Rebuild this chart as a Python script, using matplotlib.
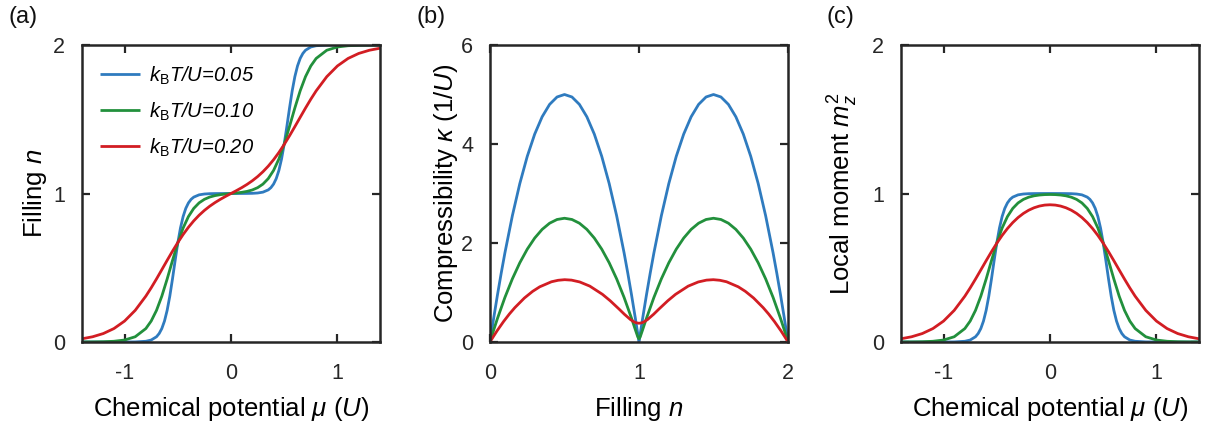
import matplotlib
matplotlib.use("Agg")
import matplotlib.pyplot as plt

plt.rcParams['font.family'] = ['Liberation Sans', 'DejaVu Sans']
plt.rcParams['mathtext.fontset'] = 'custom'
plt.rcParams['mathtext.rm'] = 'Liberation Sans'
plt.rcParams['mathtext.it'] = 'Liberation Sans:italic'
plt.rcParams['mathtext.bf'] = 'Liberation Sans:bold'

# ---------------- data ----------------
temps = ["0.05", "0.10", "0.20"]
colors = ["#2f7bbf", "#22903c", "#d21d23"]

# panel (a) & (c): chemical potential grids
mu_T005 = [-1.4, -1.3, -1.2, -1.1, -1.0, -0.9, -0.8, -0.75, -0.7, -0.675, -0.65, -0.625,
           -0.6, -0.575, -0.55, -0.525, -0.5, -0.475, -0.45, -0.425, -0.4, -0.375, -0.35,
           -0.3, -0.25, -0.2, -0.15, -0.1, -0.05, 0.0,
           0.05, 0.1, 0.15, 0.2, 0.25, 0.3, 0.35, 0.375, 0.4, 0.425, 0.45, 0.475, 0.5,
           0.525, 0.55, 0.575, 0.6, 0.625, 0.65, 0.675, 0.7, 0.75, 0.8, 0.9, 1.0, 1.1,
           1.2, 1.3, 1.4]
n_T005 = [0.0000, 0.0000, 0.0000, 0.0000, 0.0001, 0.0007, 0.0049, 0.0133, 0.0353, 0.0570,
          0.0905, 0.1410, 0.2130, 0.3086, 0.4239, 0.5481, 0.6667, 0.7673, 0.8446, 0.8996,
          0.9366, 0.9606, 0.9757, 0.9909, 0.9966, 0.9988, 0.9995, 0.9998, 0.9999, 1.0000,
          1.0001, 1.0002, 1.0005, 1.0012, 1.0034, 1.0091, 1.0243, 1.0394, 1.0634, 1.1004,
          1.1554, 1.2327, 1.3333, 1.4519, 1.5761, 1.6914, 1.7870, 1.8590, 1.9095, 1.9430,
          1.9647, 1.9867, 1.9951, 1.9993, 1.9999, 2.0000, 2.0000, 2.0000, 2.0000]
m_T005 = [0.0000, 0.0000, 0.0000, 0.0000, 0.0001, 0.0007, 0.0049, 0.0133, 0.0353, 0.0570,
          0.0905, 0.1410, 0.2130, 0.3086, 0.4239, 0.5481, 0.6667, 0.7673, 0.8446, 0.8996,
          0.9366, 0.9606, 0.9757, 0.9909, 0.9966, 0.9988, 0.9995, 0.9998, 0.9999, 1.0000,
          0.9999, 0.9998, 0.9995, 0.9988, 0.9966, 0.9909, 0.9757, 0.9606, 0.9366, 0.8996,
          0.8446, 0.7673, 0.6667, 0.5481, 0.4239, 0.3086, 0.2130, 0.1410, 0.0905, 0.0570,
          0.0353, 0.0133, 0.0049, 0.0007, 0.0001, 0.0000, 0.0000, 0.0000, 0.0000]

mu_grid = [-1.4, -1.3, -1.2, -1.1, -1.0, -0.9, -0.8, -0.75, -0.7, -0.65, -0.6, -0.55, -0.5,
           -0.45, -0.4, -0.35, -0.3, -0.25, -0.2, -0.15, -0.1, -0.05, 0.0,
           0.05, 0.1, 0.15, 0.2, 0.25, 0.3, 0.35, 0.4, 0.45, 0.5, 0.55, 0.6, 0.65, 0.7,
           0.75, 0.8, 0.9, 1.0, 1.1, 1.2, 1.3, 1.4]
n_T010 = [0.0002, 0.0007, 0.0018, 0.0049, 0.0133, 0.0353, 0.0905, 0.1410, 0.2130, 0.3086,
          0.4239, 0.5481, 0.6667, 0.7674, 0.8447, 0.8997, 0.9368, 0.9608, 0.9762, 0.9859,
          0.9922, 0.9965, 1.0000,
          1.0035, 1.0078, 1.0141, 1.0238, 1.0392, 1.0632, 1.1003, 1.1553, 1.2326, 1.3333,
          1.4519, 1.5761, 1.6914, 1.7870, 1.8590, 1.9095, 1.9647, 1.9867, 1.9951, 1.9982,
          1.9993, 1.9998]
m_T010 = [0.0002, 0.0007, 0.0018, 0.0049, 0.0133, 0.0353, 0.0905, 0.1410, 0.2130, 0.3086,
          0.4239, 0.5481, 0.6666, 0.7673, 0.8446, 0.8996, 0.9365, 0.9603, 0.9753, 0.9844,
          0.9897, 0.9925, 0.9933,
          0.9925, 0.9897, 0.9844, 0.9753, 0.9603, 0.9365, 0.8996, 0.8446, 0.7673, 0.6666,
          0.5481, 0.4239, 0.3086, 0.2130, 0.1410, 0.0905, 0.0353, 0.0133, 0.0049, 0.0018,
          0.0007, 0.0002]
n_T020 = [0.0217, 0.0353, 0.0569, 0.0905, 0.1410, 0.2132, 0.3090, 0.3648, 0.4247, 0.4870,
          0.5498, 0.6112, 0.6696, 0.7237, 0.7725, 0.8158, 0.8535, 0.8861, 0.9144, 0.9390,
          0.9609, 0.9809, 1.0000,
          1.0191, 1.0391, 1.0610, 1.0856, 1.1139, 1.1465, 1.1842, 1.2275, 1.2763, 1.3304,
          1.3888, 1.4502, 1.5130, 1.5753, 1.6352, 1.6910, 1.7868, 1.8590, 1.9095, 1.9431,
          1.9647, 1.9783]
m_T020 = [0.0217, 0.0353, 0.0569, 0.0905, 0.1410, 0.2130, 0.3085, 0.3642, 0.4237, 0.4854,
          0.5475, 0.6080, 0.6652, 0.7175, 0.7641, 0.8043, 0.8382, 0.8658, 0.8876, 0.9039,
          0.9153, 0.9220, 0.9241,
          0.9220, 0.9153, 0.9039, 0.8876, 0.8658, 0.8382, 0.8043, 0.7641, 0.7175, 0.6652,
          0.6080, 0.5475, 0.4854, 0.4237, 0.3642, 0.3085, 0.2130, 0.1410, 0.0905, 0.0569,
          0.0353, 0.0217]

# panel (b): compressibility vs filling
fill_T005 = [0.0, 0.01, 0.025, 0.05, 0.075, 0.1, 0.15, 0.2, 0.25, 0.3, 0.35, 0.4, 0.45, 0.5,
             0.55, 0.6, 0.65, 0.7, 0.75, 0.8, 0.85, 0.9, 0.925, 0.95, 0.975, 0.99, 1.0,
             1.01, 1.025, 1.05, 1.075, 1.1, 1.15, 1.2, 1.25, 1.3, 1.35, 1.4, 1.45, 1.5,
             1.55, 1.6, 1.65, 1.7, 1.75, 1.8, 1.85, 1.9, 1.925, 1.95, 1.975, 1.99, 2.0]
kappa_T005 = [0.0, 0.198, 0.4875, 0.95, 1.3875, 1.8, 2.55, 3.2, 3.75, 4.2, 4.55, 4.8, 4.95, 5.0,
              4.95, 4.8, 4.55, 4.2, 3.75, 3.2, 2.55, 1.8, 1.3875, 0.95, 0.4875, 0.198, 0.001,
              0.198, 0.4875, 0.95, 1.3875, 1.8, 2.55, 3.2, 3.75, 4.2, 4.55, 4.8, 4.95, 5.0,
              4.95, 4.8, 4.55, 4.2, 3.75, 3.2, 2.55, 1.8, 1.3875, 0.95, 0.4875, 0.198, 0.0]
fill_T010 = [0.0, 0.01, 0.025, 0.05, 0.1, 0.15, 0.2, 0.25, 0.3, 0.35, 0.4, 0.45, 0.5, 0.55,
             0.6, 0.65, 0.7, 0.75, 0.8, 0.85, 0.9, 0.9526, 0.9761, 0.9912, 0.9973, 1.0,
             1.0027, 1.0088, 1.0239, 1.0474, 1.1, 1.15, 1.2, 1.25, 1.3, 1.35, 1.4, 1.45,
             1.5, 1.55, 1.6, 1.65, 1.7, 1.75, 1.8, 1.85, 1.9, 1.95, 1.975, 1.99, 2.0]
kappa_T010 = [0.0, 0.099, 0.244, 0.475, 0.9, 1.275, 1.6, 1.875, 2.1, 2.275, 2.4, 2.475, 2.5,
              2.475, 2.4, 2.275, 2.1, 1.875, 1.6, 1.275, 0.9, 0.456, 0.243, 0.109, 0.072,
              0.067, 0.072, 0.109, 0.243, 0.456, 0.9, 1.275, 1.6, 1.875, 2.1, 2.275, 2.4,
              2.475, 2.5, 2.475, 2.4, 2.275, 2.1, 1.875, 1.6, 1.275, 0.9, 0.475, 0.244,
              0.099, 0.0]
fill_T020 = [0.0, 0.0100, 0.0196, 0.0476, 0.0909, 0.1304, 0.1667, 0.2310, 0.2861, 0.3338,
             0.4125, 0.4575, 0.5013, 0.5471, 0.6021, 0.6697, 0.7547, 0.8064, 0.8670, 0.9020,
             0.9428, 0.9674, 0.9850, 1.0,
             1.0150, 1.0326, 1.0572, 1.0980, 1.1330, 1.1936, 1.2453, 1.3303, 1.3979, 1.4529,
             1.4987, 1.5425, 1.5875, 1.6662, 1.7139, 1.7690, 1.8333, 1.8696, 1.9091, 1.9524,
             1.9804, 1.9900, 2.0]
kappa_T020 = [0.0, 0.049, 0.096, 0.227, 0.413, 0.567, 0.694, 0.889, 1.023, 1.115, 1.217,
              1.247, 1.259, 1.250, 1.213, 1.129, 0.963, 0.834, 0.663, 0.560, 0.453, 0.405,
              0.385, 0.379,
              0.385, 0.405, 0.453, 0.560, 0.663, 0.834, 0.963, 1.129, 1.213, 1.250, 1.259,
              1.247, 1.217, 1.115, 1.023, 0.889, 0.694, 0.567, 0.413, 0.227, 0.096, 0.049,
              0.0]

mu_ticks = [-1, 0, 1]
fill_ticks = [0, 1, 2]
kappa_ticks = [0, 2, 4, 6]

# ---------------- figure ----------------
fig = plt.figure(figsize=(12.05, 4.25), dpi=100)
W, H = 1205.0, 425.0

def make_ax(x0, x1, y0, y1):
    return fig.add_axes([x0 / W, 1 - y1 / H, (x1 - x0) / W, (y1 - y0) / H])

axA = make_ax(82, 380, 45, 342)
axB = make_ax(490, 788, 45, 342)
axC = make_ax(901, 1199, 45, 342)

edge = "#262626"
lw = 2.0
tick_fs = 15.5
label_fs = 18.5

def style(ax):
    for s in ax.spines.values():
        s.set_linewidth(1.8)
        s.set_color(edge)
    ax.tick_params(direction="in", top=True, right=True, length=6, width=1.6,
                   colors=edge, labelsize=tick_fs, labelcolor="#262626")
    ax.tick_params(axis="x", pad=15)
    ax.tick_params(axis="y", pad=12)

labels = [r"$k_{\mathrm{B}}$" + "T/U=" + t for t in temps]

mu_series = [mu_T005, mu_grid, mu_grid]
n_series = [n_T005, n_T010, n_T020]
m_series = [m_T005, m_T010, m_T020]
fill_series = [fill_T005, fill_T010, fill_T020]
kappa_series = [kappa_T005, kappa_T010, kappa_T020]

for i in range(3):
    axA.plot(mu_series[i], n_series[i], color=colors[i], lw=lw, label=labels[i],
             solid_capstyle="butt")
    axB.plot(fill_series[i], kappa_series[i], color=colors[i], lw=lw)
    axC.plot(mu_series[i], m_series[i], color=colors[i], lw=lw)

for ax in (axA, axC):
    ax.set_xlim(-1.4, 1.4)
    ax.set_ylim(0, 2)
    ax.set_xticks(mu_ticks)
    ax.set_xticklabels(["-1", "0", "1"])
    ax.set_yticks(fill_ticks)
    ax.set_xlabel(r"Chemical potential $\mu$ ($U$)", fontsize=label_fs, labelpad=8)
    style(ax)

axB.set_xlim(0, 2)
axB.set_ylim(0, 6)
axB.set_xticks(fill_ticks)
axB.set_yticks(kappa_ticks)
axB.set_xlabel(r"Filling $n$", fontsize=label_fs, labelpad=8)
style(axB)

axA.set_ylabel(r"Filling $n$", fontsize=label_fs, labelpad=3)
axB.set_ylabel(r"Compressibility $\kappa$ (1/$U$)", fontsize=label_fs, labelpad=1)
axC.set_ylabel(r"Local moment $m_z^2$", fontsize=label_fs, labelpad=9)

leg = axA.legend(loc="upper left", bbox_to_anchor=(0.02, 0.975), frameon=False,
                 prop={"size": 14.5, "style": "italic"}, handlelength=2.0,
                 handletextpad=0.45, labelspacing=0.68, borderaxespad=0.2)

for ax, lab, x in ((axA, "(a)", 8), (axB, "(b)", 416), (axC, "(c)", 827)):
    fig.text(x / W, 1 - 17 / H, lab, fontsize=17, va="center", ha="left", color="#111111")

fig.savefig("out.png", dpi=100)
